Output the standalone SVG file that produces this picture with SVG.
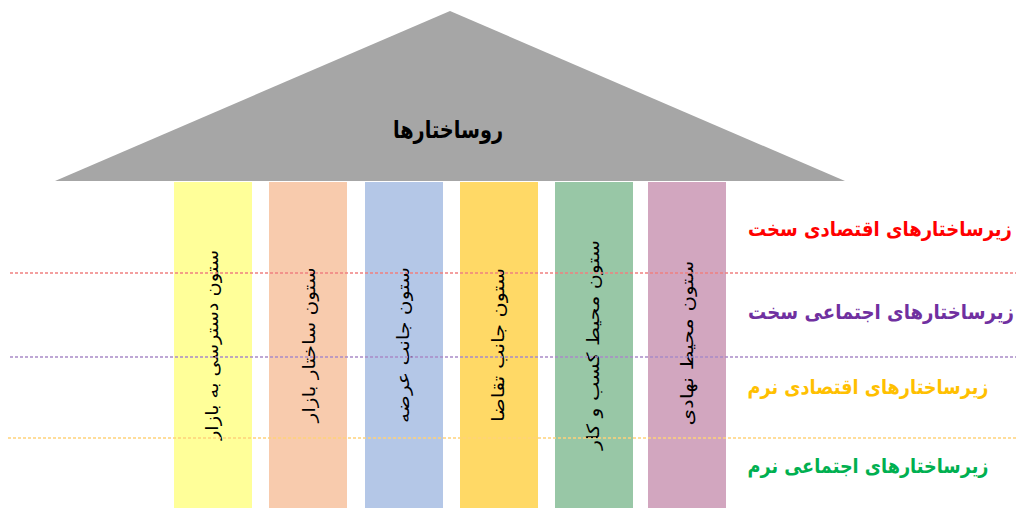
<svg xmlns="http://www.w3.org/2000/svg" width="1016" height="508" viewBox="0 0 1016 508">
<style>
.col-text{font-family:"DejaVu Sans",sans-serif;font-size:17px;fill:#000;}
.lbl{font-family:"DejaVu Sans",sans-serif;font-size:17px;font-weight:bold;}
.dot{stroke-width:1.6;stroke-dasharray:3 2;fill:none;}
</style>
<rect width="1016" height="508" fill="#fff"/>
<g id="roof">
<polygon points="450,11 845,181 55,181" fill="#A6A6A6"/>
<text transform="translate(448,129) scale(1,1.2)" text-anchor="middle" dominant-baseline="central" font-family="DejaVu Sans, sans-serif" font-size="20" font-weight="bold" textLength="110" lengthAdjust="spacingAndGlyphs">روساختارها</text>
</g>
<g id="col1">
<rect x="174" y="182" width="78" height="326" fill="#FFFF99"/>
<text class="col-text" transform="translate(212,345) rotate(-90)" text-anchor="middle" dominant-baseline="central" textLength="190" lengthAdjust="spacingAndGlyphs">ستون دسترسی به بازار</text>
</g>
<g id="col2">
<rect x="269" y="182" width="78" height="326" fill="#F8CBAD"/>
<text class="col-text" transform="translate(309,345) rotate(-90)" text-anchor="middle" dominant-baseline="central" textLength="155" lengthAdjust="spacingAndGlyphs">ستون ساختار بازار</text>
</g>
<g id="col3">
<rect x="365" y="182" width="78" height="326" fill="#B4C7E7"/>
<text class="col-text" transform="translate(403,345) rotate(-90)" text-anchor="middle" dominant-baseline="central" textLength="156" lengthAdjust="spacingAndGlyphs">ستون جانب عرضه</text>
</g>
<g id="col4">
<rect x="460" y="182" width="78" height="326" fill="#FFD966"/>
<text class="col-text" transform="translate(498,345) rotate(-90)" text-anchor="middle" dominant-baseline="central" textLength="154" lengthAdjust="spacingAndGlyphs">ستون جانب تقاضا</text>
</g>
<g id="col5">
<rect x="555" y="182" width="78" height="326" fill="#98C7A6"/>
<text class="col-text" transform="translate(593,345) rotate(-90)" text-anchor="middle" dominant-baseline="central" textLength="210" lengthAdjust="spacingAndGlyphs">ستون محیط کسب و کار</text>
</g>
<g id="col6">
<rect x="648" y="182" width="78" height="326" fill="#D2A6BF"/>
<text class="col-text" transform="translate(687,343) rotate(-90)" text-anchor="middle" dominant-baseline="central" textLength="165" lengthAdjust="spacingAndGlyphs">ستون محیط نهادی</text>
</g>
<g id="connectors">
<line class="dot" x1="10" y1="273" x2="1016" y2="273" stroke="#F08080"/>
<line class="dot" x1="10" y1="357" x2="1016" y2="357" stroke="#A98BC8"/>
<line class="dot" x1="8" y1="438" x2="1016" y2="438" stroke="#FFD27A"/>
</g>
<g id="labels">
<text class="lbl" transform="translate(880,229) scale(1,1.2)" text-anchor="middle" dominant-baseline="central" fill="#FF0000" textLength="264" lengthAdjust="spacingAndGlyphs">زیرساختارهای اقتصادی سخت</text>
<text class="lbl" transform="translate(881,312) scale(1,1.2)" text-anchor="middle" dominant-baseline="central" fill="#7030A0" textLength="266" lengthAdjust="spacingAndGlyphs">زیرساختارهای اجتماعی سخت</text>
<text class="lbl" transform="translate(868,387) scale(1,1.2)" text-anchor="middle" dominant-baseline="central" fill="#FFC000" textLength="241" lengthAdjust="spacingAndGlyphs">زیرساختارهای اقتصادی نرم</text>
<text class="lbl" transform="translate(868,466) scale(1,1.2)" text-anchor="middle" dominant-baseline="central" fill="#00B050" textLength="241" lengthAdjust="spacingAndGlyphs">زیرساختارهای اجتماعی نرم</text>
</g>
</svg>
